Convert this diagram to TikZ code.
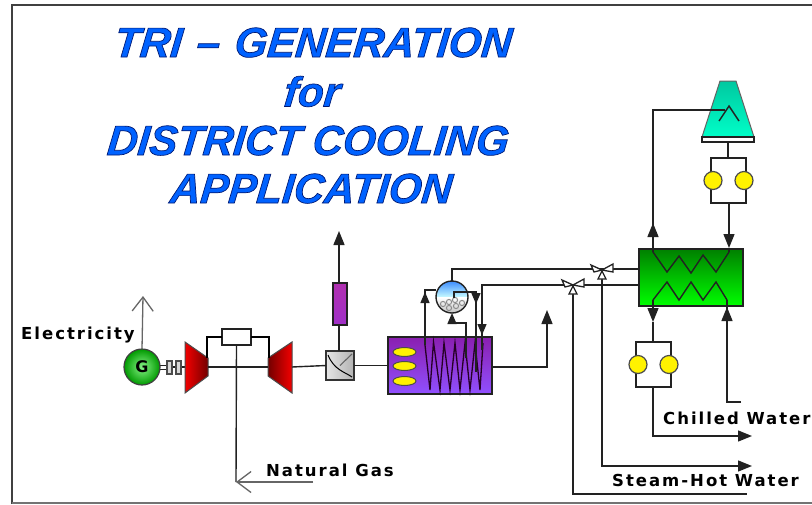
\documentclass[tikz,border=0pt]{standalone}
\usepackage{fontspec}
\setmainfont{Liberation Sans}
\newfontfamily\titlefont{Liberation Sans}[BoldItalicFont={* Bold Italic}]
\newfontfamily\labelfont{DejaVu Sans}[LetterSpace=12,BoldFont={* Bold}]
\usetikzlibrary{arrows.meta,shapes.geometric,calc}
\definecolor{ink}{HTML}{222222}
\definecolor{titleblue}{HTML}{0062FF}
\definecolor{towertop}{HTML}{00C8A0}
\definecolor{towerbot}{HTML}{00FFC8}
\definecolor{hrsgtop}{HTML}{8A1FB0}
\definecolor{hrsgbot}{HTML}{9050FF}
\definecolor{mufftop}{HTML}{B030B0}
\definecolor{muffbot}{HTML}{A030C8}
\newcommand{\edged}[1]{\special{pdf:code q 2 Tr 0.7 w 0 0.1 0.45 RG}#1\special{pdf:code Q}}
\tikzset{
  pipe/.style={draw=ink,line width=1.4pt},
  fat/.style={draw=black,line width=2.8pt},
  tipped/.style={pipe,-{Triangle[length=14pt,width=11pt]}},
  thin tip/.style={pipe,-{Triangle[length=11pt,width=9pt]}},
  open tip/.style={draw=black!60,line width=1.3pt,-{Straight Barb[length=14pt,width=21pt,line width=1.3pt]}},
  equip/.style={draw=ink,line width=1.4pt,inner sep=0pt,outer sep=0pt,rectangle},
  lamp/.style={circle,draw=black!70,line width=1.2pt,fill=yellow,minimum size=18pt,inner sep=0pt,outer sep=0pt},
  label text/.style={inner sep=0pt,anchor=base west,font=\labelfont\bfseries\fontsize{16.5}{17}\selectfont,text=black},
  title text/.style={inner sep=0pt,anchor=base,transform shape,xslant=0.1,font=\titlefont\bfseries\itshape\fontsize{42}{44}\selectfont,text=titleblue},
  valvetri/.style={draw=ink,line width=1.3pt,fill=white},
  pics/valve/.style={code={
    \draw[valvetri] (0,0) -- (-11,-5) -- (-8,2) -- cycle;
    \draw[valvetri] (0,0) -- (11,-6) -- (11,2) -- cycle;
    \draw[valvetri] (0,1) -- (-4,9) -- (4,9) -- cycle;
  }}
}
\begin{document}
\begin{tikzpicture}[x=1pt,y=-1pt]
\useasboundingbox (0,0) rectangle (812,504);
\fill[white] (0,0) rectangle (812,504);
% frame
\draw[draw=black!75,line width=2pt] (11.5,504) |- (812,4.5);
\draw[draw=black!55,line width=1.2pt] (11.5,503) -- (812,503);
% title
\node[title text] (title a) at (312,57) {\edged{TRI\hspace{3pt} – \hspace{3pt}GENERATION}};
\node[title text] (title b) at (311,106.5) {\edged{for}};
\node[title text] (title c) at (307,155) {\edged{DISTRICT COOLING}};
\node[title text] (title d) at (310,203) {\edged{APPLICATION}};
% coordinates
\coordinate (fuel end) at (236,482);
\coordinate (gas tail) at (313,482);
\coordinate (elec tip) at (143,296);
\coordinate (stack tip) at (339,231);
\coordinate (out elbow) at (547,367);
\coordinate (out tip) at (547,310);
% generator and coupling
\draw[ink,line width=1pt] (160,365) -- (167,365) (160,369) -- (167,369);
\draw[ink,line width=1.2pt] (172,367) -- (176,367) (181,367) -- (185,367);
\node[equip,draw=black!70,fill=black!15,minimum width=5pt,minimum height=13pt] (cpl a) at (169.5,367.5) {};
\node[equip,draw=black!70,fill=black!15,minimum width=5pt,minimum height=13pt] (cpl b) at (178.5,367.5) {};
\node[circle,draw=black!75,line width=1.2pt,inner sep=0pt,outer sep=0pt,minimum size=36pt,
  inner color=green!45!white!95!black,outer color=green!60!black,
  font=\labelfont\bfseries\fontsize{16}{16}\selectfont] (gen) at (142,367) {G};
\draw[open tip] (gen.north) -- (elec tip);
% turbines
\path[draw=black!70,line width=1pt,left color=red!95!black,middle color=red!90!black,right color=red!45!black] (185,342) -- (208,358) -- (208,376) -- (185,393) -- cycle;
\path[draw=black!70,line width=1pt,left color=red!45!black,middle color=red!90!black,right color=red!95!black] (268,358) -- (292,342) -- (292,393) -- (268,376) -- cycle;
\coordinate (comp out) at (207,358);
\coordinate (turb in) at (269,358);
\coordinate (comp shaft) at (208,367);
\coordinate (turb shaft) at (268,367);
\coordinate (turb out) at (292,367);
\node[equip,fill=white,minimum width=29pt,minimum height=16pt] (comb) at (236.5,337) {};
\draw[fat] (comb.west) -| (comp out);
\draw[fat] (comb.east) -| (turb in);
\draw[pipe] (comp shaft) -- (turb shaft);
\draw[pipe] (comb.south) -- (fuel end);
\draw[open tip] (gas tail) -- (fuel end);
\node[label text] (gas label) at (266,476) {Natural Gas};
\node[label text] (elec label) at (21,339) {Electricity};
% bypass box
\node[equip,draw=black!80,left color=white!90!black,right color=black!30,minimum width=28pt,minimum height=29pt] (box) at (340,365.5) {};
\draw[black,line width=1pt] (box.north west) ++(2,4) .. controls (334,370) and (345,372) .. ($(box.south east)+(-2,-3)$);
\draw[black!60,line width=1.1pt] (box.center) -- ($(box.north east)+(-2,3)$);
\draw[pipe] (turb out) -- (box.west);
\node[equip,top color=mufftop,bottom color=muffbot,minimum width=14pt,minimum height=42pt] (muffler) at (340,304) {};
\coordinate (box top) at (339,351);
\draw[pipe] (box top) -- (box top |- muffler.south);
\draw[tipped] (box top |- muffler.north) -- (stack tip);
% HRSG
\node[equip,top color=hrsgtop,bottom color=hrsgbot,minimum width=104pt,minimum height=57pt] (hrsg) at (440,365.5) {};
\draw[pipe] (box.east) -- (hrsg.west |- box.east);
\foreach \n/\y in {a/352,b/366,c/381} {
  \node[ellipse,draw=black!70,line width=1pt,fill=yellow,minimum width=23pt,minimum height=9pt,inner sep=0pt] (burner \n) at (404.5,\y) {};
}
\draw[draw=violet!30!black,line width=1.3pt] (425,345) -- (430,390) -- (433.5,342) -- (440,390) -- (444,343) -- (450,390) -- (455,343) -- (460,390) -- (465,343) -- (470,390) -- (475,343) -- (480,390) -- (483,343);
\coordinate (hrsg out) at (hrsg.east |- out elbow);
\draw[tipped] (hrsg out) -- (out elbow) -- (out tip);
% drum
\node[circle,minimum size=32pt,inner sep=0pt,outer sep=0pt] (drum) at (452,297) {};
\begin{scope}
  \clip (drum) circle (16);
  \path[top color=blue!60!cyan!80!white,bottom color=white!80!cyan] (430,280) rectangle (474,297.5);
  \path[top color=white,bottom color=black!25] (430,297.5) rectangle (474,314);
  \foreach \cx/\cy in {443/304,449/302,455/300,462/303,449/308,456/306} \draw[black!45,line width=1pt] (\cx,\cy) circle (2.6);
\end{scope}
\draw[ink,line width=1.4pt] (drum) circle (16);
% drum piping
\coordinate (riser bot) at (425,345);
\coordinate (riser tip) at (425,292);
\coordinate (riser top) at (425,290);
\draw[pipe] (riser bot) -- (riser top) -- (riser top -| drum.west);
\draw[thin tip] (riser bot) -- (riser tip);
\coordinate (feed a) at (454,298);
\coordinate (feed b) at (454,292);
\coordinate (feed c) at (476,292);
\coordinate (feed d) at (476,372);
\coordinate (feed tip) at (476,304);
\draw[pipe] (feed a) -- (feed b) -- (feed c) -- (feed d);
\draw[thin tip] (feed c) -- (feed tip);
\coordinate (down a) at (466,358);
\coordinate (down b) at (466,323);
\coordinate (down c) at (452,323);
\draw[thin tip] (down a) -- (down b) -- (down c) -- (drum.south);
% valves and steam lines
\coordinate (v1) at (602,270);
\coordinate (v2) at (573,285);
\coordinate (steam a) at (452,269);
\coordinate (steam b) at (482,285);
\coordinate (steam c) at (482,350);
\coordinate (steam tip) at (482,335);
\node[equip,top color=green!50!black,bottom color=green,minimum width=104pt,minimum height=57pt] (hx) at (691,277.5) {};
\draw[pipe] (drum.north) -- (steam a) -- (steam a -| hx.west);
\draw[pipe] (steam c) -- (steam b) -- (steam b -| hx.west);
\draw[thin tip] (steam b) -- (steam tip);
\coordinate (hot tail) at (602,279);
\coordinate (hot elbow) at (602,466);
\coordinate (hot tip) at (752,466);
\coordinate (alt tail) at (573,294);
\coordinate (alt elbow) at (573,494);
\coordinate (alt end) at (747,494);
\draw[tipped] (hot tail) -- (hot elbow) -- (hot tip);
\draw[pipe] (alt tail) -- (alt elbow) -- (alt end);
\pic at (v1) {valve};
\pic at (v2) {valve};
\node[label text] (hot label) at (612,486) {Steam-Hot Water};
% absorption unit coils
\draw[pipe] (653,252) -- (667,272) -- (679,256) -- (691,273) -- (703,255) -- (716,272) -- (729,252);
\draw[pipe] (653,300) -- (667,282) -- (679,300) -- (691,282) -- (703,300) -- (716,282) -- (727,300);
% cooling tower
\path[draw=ink!70,line width=1pt,top color=towertop,bottom color=towerbot] (720,81) -- (736,81) -- (754,137) -- (702,137) -- cycle;
\node[equip,fill=white,minimum width=52pt,minimum height=5pt] (basin) at (728,139.5) {};
\draw[pipe] (719,121) -- (729,106) -- (739,121);
\coordinate (hx up a) at (653,252);
\coordinate (hx up tip) at (653,223);
\coordinate (tower top) at (653,110);
\coordinate (tower in) at (725,110);
\draw[pipe] (hx up a) -- (tower top) -- (tower in);
\draw[tipped] (hx up a) -- (hx up tip);
% condenser pump
\node[equip,fill=white,minimum width=35pt,minimum height=45pt] (cpump) at (728.5,180.5) {};
\node[lamp,xshift=2pt] (c lamp a) at (cpump.west) {};
\node[lamp,xshift=-2pt] (c lamp b) at (cpump.east) {};
\draw[pipe] (basin.south) -- (basin.south |- cpump.north);
\coordinate (hx in) at (729,252);
\coordinate (hx in tip) at (729,248);
\draw[tipped] (cpump.south -| hx in) -- (hx in tip);
\draw[pipe] (hx in tip) -- (hx in);
% chilled water pump
\node[equip,fill=white,minimum width=35pt,minimum height=45pt] (epump) at (653.5,364.5) {};
\node[lamp,xshift=2pt] (e lamp a) at (epump.west) {};
\node[lamp,xshift=-2pt] (e lamp b) at (epump.east) {};
\coordinate (coil a) at (653,300);
\coordinate (coil a tip) at (653,322);
\draw[tipped] (coil a) -- (coil a tip);
\draw[pipe] (coil a tip) -- (epump.north -| coil a);
\coordinate (chill elbow) at (653,436);
\coordinate (chill tip) at (752,436);
\draw[tipped] (epump.south -| coil a) -- (chill elbow) -- (chill tip);
\coordinate (ret a) at (741,402);
\coordinate (ret b) at (727,402);
\coordinate (ret tip) at (727,307);
\coordinate (ret c) at (727,300);
\draw[pipe] (ret a) -- (ret b) -- (ret c);
\draw[tipped] (ret b) -- (ret tip);
\node[label text] (chill label) at (663,424) {Chilled Water};
\end{tikzpicture}
\end{document}
